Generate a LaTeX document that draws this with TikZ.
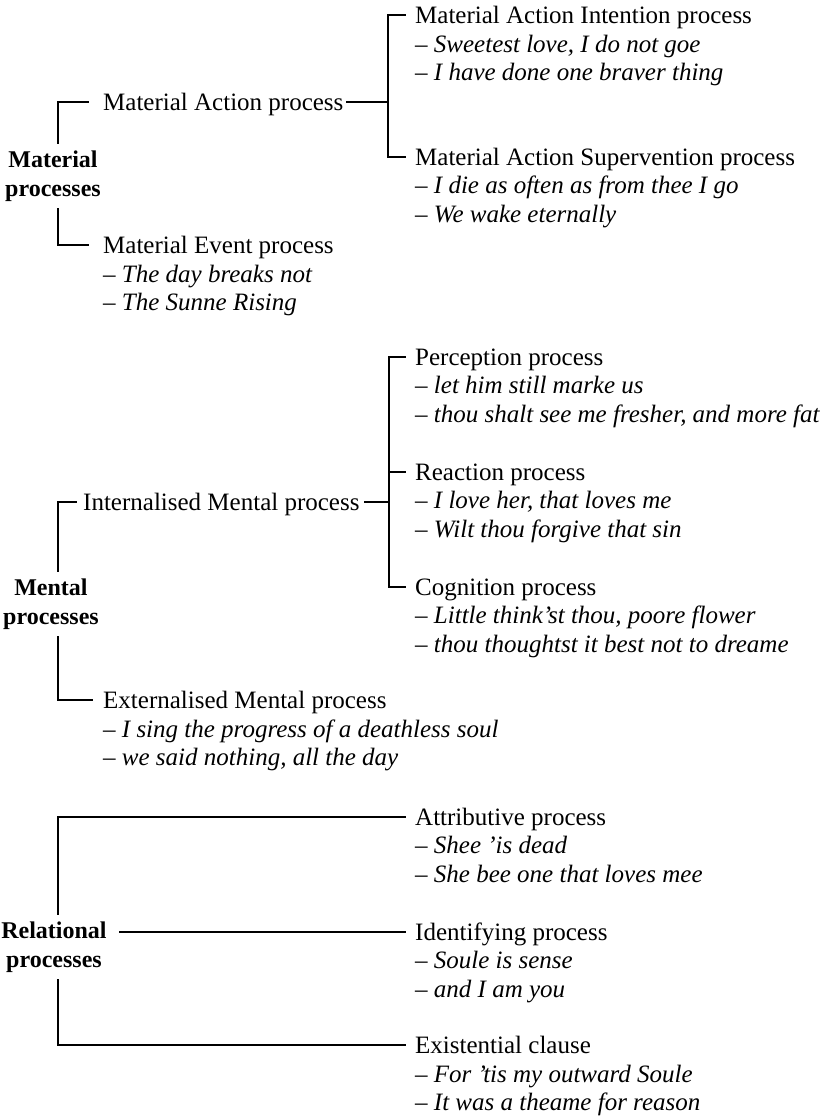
\documentclass[tikz,border=0pt]{standalone}
\usepackage{fontspec}
\setmainfont{Liberation Serif}
\usetikzlibrary{positioning}

\begin{document}
\begin{tikzpicture}[x=1pt,y=-1pt,
  tree/.style={line width=1.3pt,line cap=rect},
  head/.style={anchor=base west,inner sep=0pt,text height=16pt,text depth=0pt,font=\fontsize{25}{29}\selectfont},
  ex/.style={anchor=base west,inner sep=0pt,font=\fontsize{25}{29}\selectfont},
  grp/.style={align=center,inner xsep=3pt,inner ysep=7pt,font=\fontsize{24}{29}\selectfont\bfseries}]
  \useasboundingbox (0,0) rectangle (831,1117);
  \node[head] (mai) at (415,23) {Material Action Intention process};
  \node[ex] (mai1) at (415,52) {– \textit{Sweetest love, I do not goe}};
  \node[ex] (mai2) at (415,80) {– \textit{I have done one braver thing}};
  \node[head] (mas) at (415,165) {Material Action Supervention process};
  \node[ex] (mas1) at (415,193) {– \textit{I die as often as from thee I go}};
  \node[ex] (mas2) at (415,222) {– \textit{We wake eternally}};
  \node[head] (mact) at (103,110) {Material Action process};
  \node[head] (mev) at (103,253) {Material Event process};
  \node[ex] (mev1) at (103,282) {– \textit{The day breaks not}};
  \node[ex] (mev2) at (103,310) {– \textit{The Sunne Rising}};
  \node[grp] (matl) at (53,176) {Material\\processes};
  \draw[tree] ([xshift=-10pt]mai.west) -- ([xshift=-27pt]mai.west) |- ([xshift=-10pt]mas.west);
  \draw[tree] ([xshift=3pt]mact.east) -- ([xshift=-27pt]mai.west |- mact.east);
  \draw[tree] ([xshift=-15pt]mact.west) -| ([xshift=5pt]matl.north);
  \draw[tree] ([xshift=5pt]matl.south) |- ([xshift=-15pt]mev.west);

  \node[head] (perc) at (415,365) {Perception process};
  \node[ex] (perc1) at (415,393) {– \textit{let him still marke us}};
  \node[ex] (perc2) at (415,422) {– \textit{thou shalt see me fresher, and more fat}};
  \node[head] (reac) at (415,480) {Reaction process};
  \node[ex] (reac1) at (415,508) {– \textit{I love her, that loves me}};
  \node[ex] (reac2) at (415,537) {– \textit{Wilt thou forgive that sin}};
  \node[head] (cogn) at (415,595) {Cognition process};
  \node[ex] (cogn1) at (415,623) {– \textit{Little think’st thou, poore flower}};
  \node[ex] (cogn2) at (415,652) {– \textit{thou thoughtst it best not to dreame}};
  \node[head] (intm) at (83,510) {Internalised Mental process};
  \node[head] (extm) at (103,708) {Externalised Mental process};
  \node[ex] (extm1) at (103,737) {– \textit{I sing the progress of a deathless soul}};
  \node[ex] (extm2) at (103,765) {– \textit{we said nothing, all the day}};
  \node[grp] (ment) at (51,604) {Mental\\processes};
  \draw[tree] ([xshift=-10pt]perc.west) -- ([xshift=-26pt]perc.west) |- ([xshift=-10pt]cogn.west);
  \draw[tree] ([xshift=-26pt]reac.west) -- ([xshift=-10pt]reac.west);
  \draw[tree] ([xshift=5pt]intm.east) -- ([xshift=-26pt]perc.west |- intm.east);
  \draw[tree] ([xshift=-7pt]intm.west) -| ([xshift=7pt]ment.north);
  \draw[tree] ([xshift=7pt]ment.south) |- ([xshift=-11pt]extm.west);

  \node[head] (attr) at (415,825) {Attributive process};
  \node[ex] (attr1) at (415,853) {– \textit{Shee ’is dead}};
  \node[ex] (attr2) at (415,882) {– \textit{She bee one that loves mee}};
  \node[head] (iden) at (415,940) {Identifying process};
  \node[ex] (iden1) at (415,968) {– \textit{Soule is sense}};
  \node[ex] (iden2) at (415,997) {– \textit{and I am you}};
  \node[head] (exis) at (415,1053) {Existential clause};
  \node[ex] (exis1) at (415,1082) {– \textit{For ’tis my outward Soule}};
  \node[ex] (exis2) at (415,1110) {– \textit{It was a theame for reason}};
  \node[grp] (rel) at (54,947) {Relational\\processes};
  \draw[tree] ([xshift=4pt]rel.north) |- ([xshift=-10pt]attr.west);
  \draw[tree] ([xshift=4pt]rel.south) |- ([xshift=-10pt]exis.west);
  \draw[tree] ([xshift=10pt]rel.east |- iden.west) -- ([xshift=-10pt]iden.west);
\end{tikzpicture}
\end{document}
